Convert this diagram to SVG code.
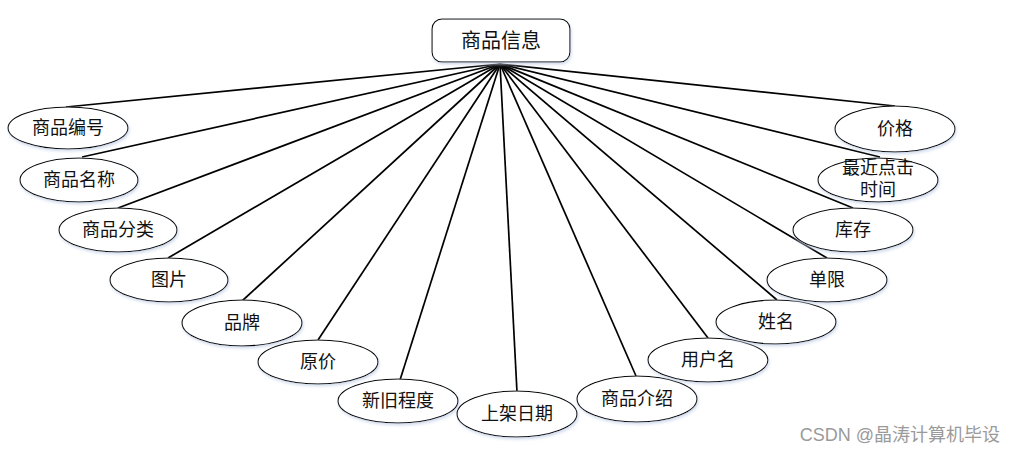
<svg xmlns="http://www.w3.org/2000/svg" width="1016" height="453" viewBox="0 0 1016 453">
<defs>
<filter id="sh" x="-20%" y="-30%" width="140%" height="170%">
<feDropShadow dx="1" dy="2" stdDeviation="1.5" flood-color="#c8d4e8" flood-opacity="0.8"/>
</filter>
</defs>
<style>
.e{fill:#fff;stroke:#000;stroke-width:1.1;filter:url(#sh)}
.t{font-family:"Liberation Serif","Noto Sans CJK SC",serif;font-size:18px;fill:#111;text-anchor:middle;dominant-baseline:central}
.c line{stroke:#000;stroke-width:1.7}
</style>
<rect width="1016" height="453" fill="#fff"/>
<g class="c" id="connectors">
<line x1="500" y1="64" x2="66" y2="107"/>
<line x1="500" y1="64" x2="82" y2="157"/>
<line x1="500" y1="64" x2="118" y2="208"/>
<line x1="500" y1="64" x2="168" y2="258"/>
<line x1="500" y1="64" x2="242" y2="301"/>
<line x1="500" y1="64" x2="318" y2="340"/>
<line x1="500" y1="64" x2="400" y2="380"/>
<line x1="500" y1="64" x2="517" y2="392"/>
<line x1="500" y1="64" x2="636" y2="376"/>
<line x1="500" y1="64" x2="708" y2="338"/>
<line x1="500" y1="64" x2="777" y2="300"/>
<line x1="500" y1="64" x2="827" y2="258"/>
<line x1="500" y1="64" x2="853" y2="208"/>
<line x1="500" y1="64" x2="880" y2="157"/>
<line x1="500" y1="64" x2="895" y2="106"/>
</g>
<g id="root">
<rect x="432" y="19" width="138" height="43" rx="10" class="e"/>
<text x="501" y="41" class="t" style="font-size:20px">商品信息</text>
</g>
<g id="n1"><ellipse cx="68" cy="128" rx="60" ry="21" class="e"/><text x="68" y="128" class="t">商品编号</text></g>
<g id="n2"><ellipse cx="79" cy="180" rx="59" ry="22" class="e"/><text x="79" y="180" class="t">商品名称</text></g>
<g id="n3"><ellipse cx="118" cy="230" rx="59" ry="22" class="e"/><text x="118" y="230" class="t">商品分类</text></g>
<g id="n4"><ellipse cx="169" cy="280" rx="59" ry="22" class="e"/><text x="169" y="280" class="t">图片</text></g>
<g id="n5"><ellipse cx="242" cy="323" rx="60" ry="23" class="e"/><text x="242" y="323" class="t">品牌</text></g>
<g id="n6"><ellipse cx="318" cy="362" rx="60" ry="22" class="e"/><text x="318" y="362" class="t">原价</text></g>
<g id="n7"><ellipse cx="398" cy="401" rx="60" ry="22" class="e"/><text x="398" y="401" class="t">新旧程度</text></g>
<g id="n8"><ellipse cx="517" cy="414" rx="60" ry="23" class="e"/><text x="517" y="414" class="t">上架日期</text></g>
<g id="n9"><ellipse cx="637" cy="399" rx="60" ry="23" class="e"/><text x="637" y="399" class="t">商品介绍</text></g>
<g id="n10"><ellipse cx="708" cy="360" rx="60" ry="22" class="e"/><text x="708" y="360" class="t">用户名</text></g>
<g id="n11"><ellipse cx="776" cy="322" rx="60" ry="22" class="e"/><text x="776" y="322" class="t">姓名</text></g>
<g id="n12"><ellipse cx="827" cy="280" rx="60" ry="22" class="e"/><text x="827" y="280" class="t">单限</text></g>
<g id="n13"><ellipse cx="853" cy="230" rx="60" ry="22" class="e"/><text x="853" y="230" class="t">库存</text></g>
<g id="n14"><ellipse cx="878" cy="180" rx="60" ry="22" class="e"/><text x="878" y="168" class="t">最近点击</text><text x="878" y="190" class="t">时间</text></g>
<g id="n15"><ellipse cx="895" cy="129" rx="60" ry="23" class="e"/><text x="895" y="129" class="t">价格</text></g>
<text x="1000" y="435" style="font-family:'Liberation Sans','Noto Sans CJK SC',sans-serif;font-size:18px;fill:#9a9a9a;text-anchor:end;dominant-baseline:central">CSDN @晶涛计算机毕设</text>
</svg>
